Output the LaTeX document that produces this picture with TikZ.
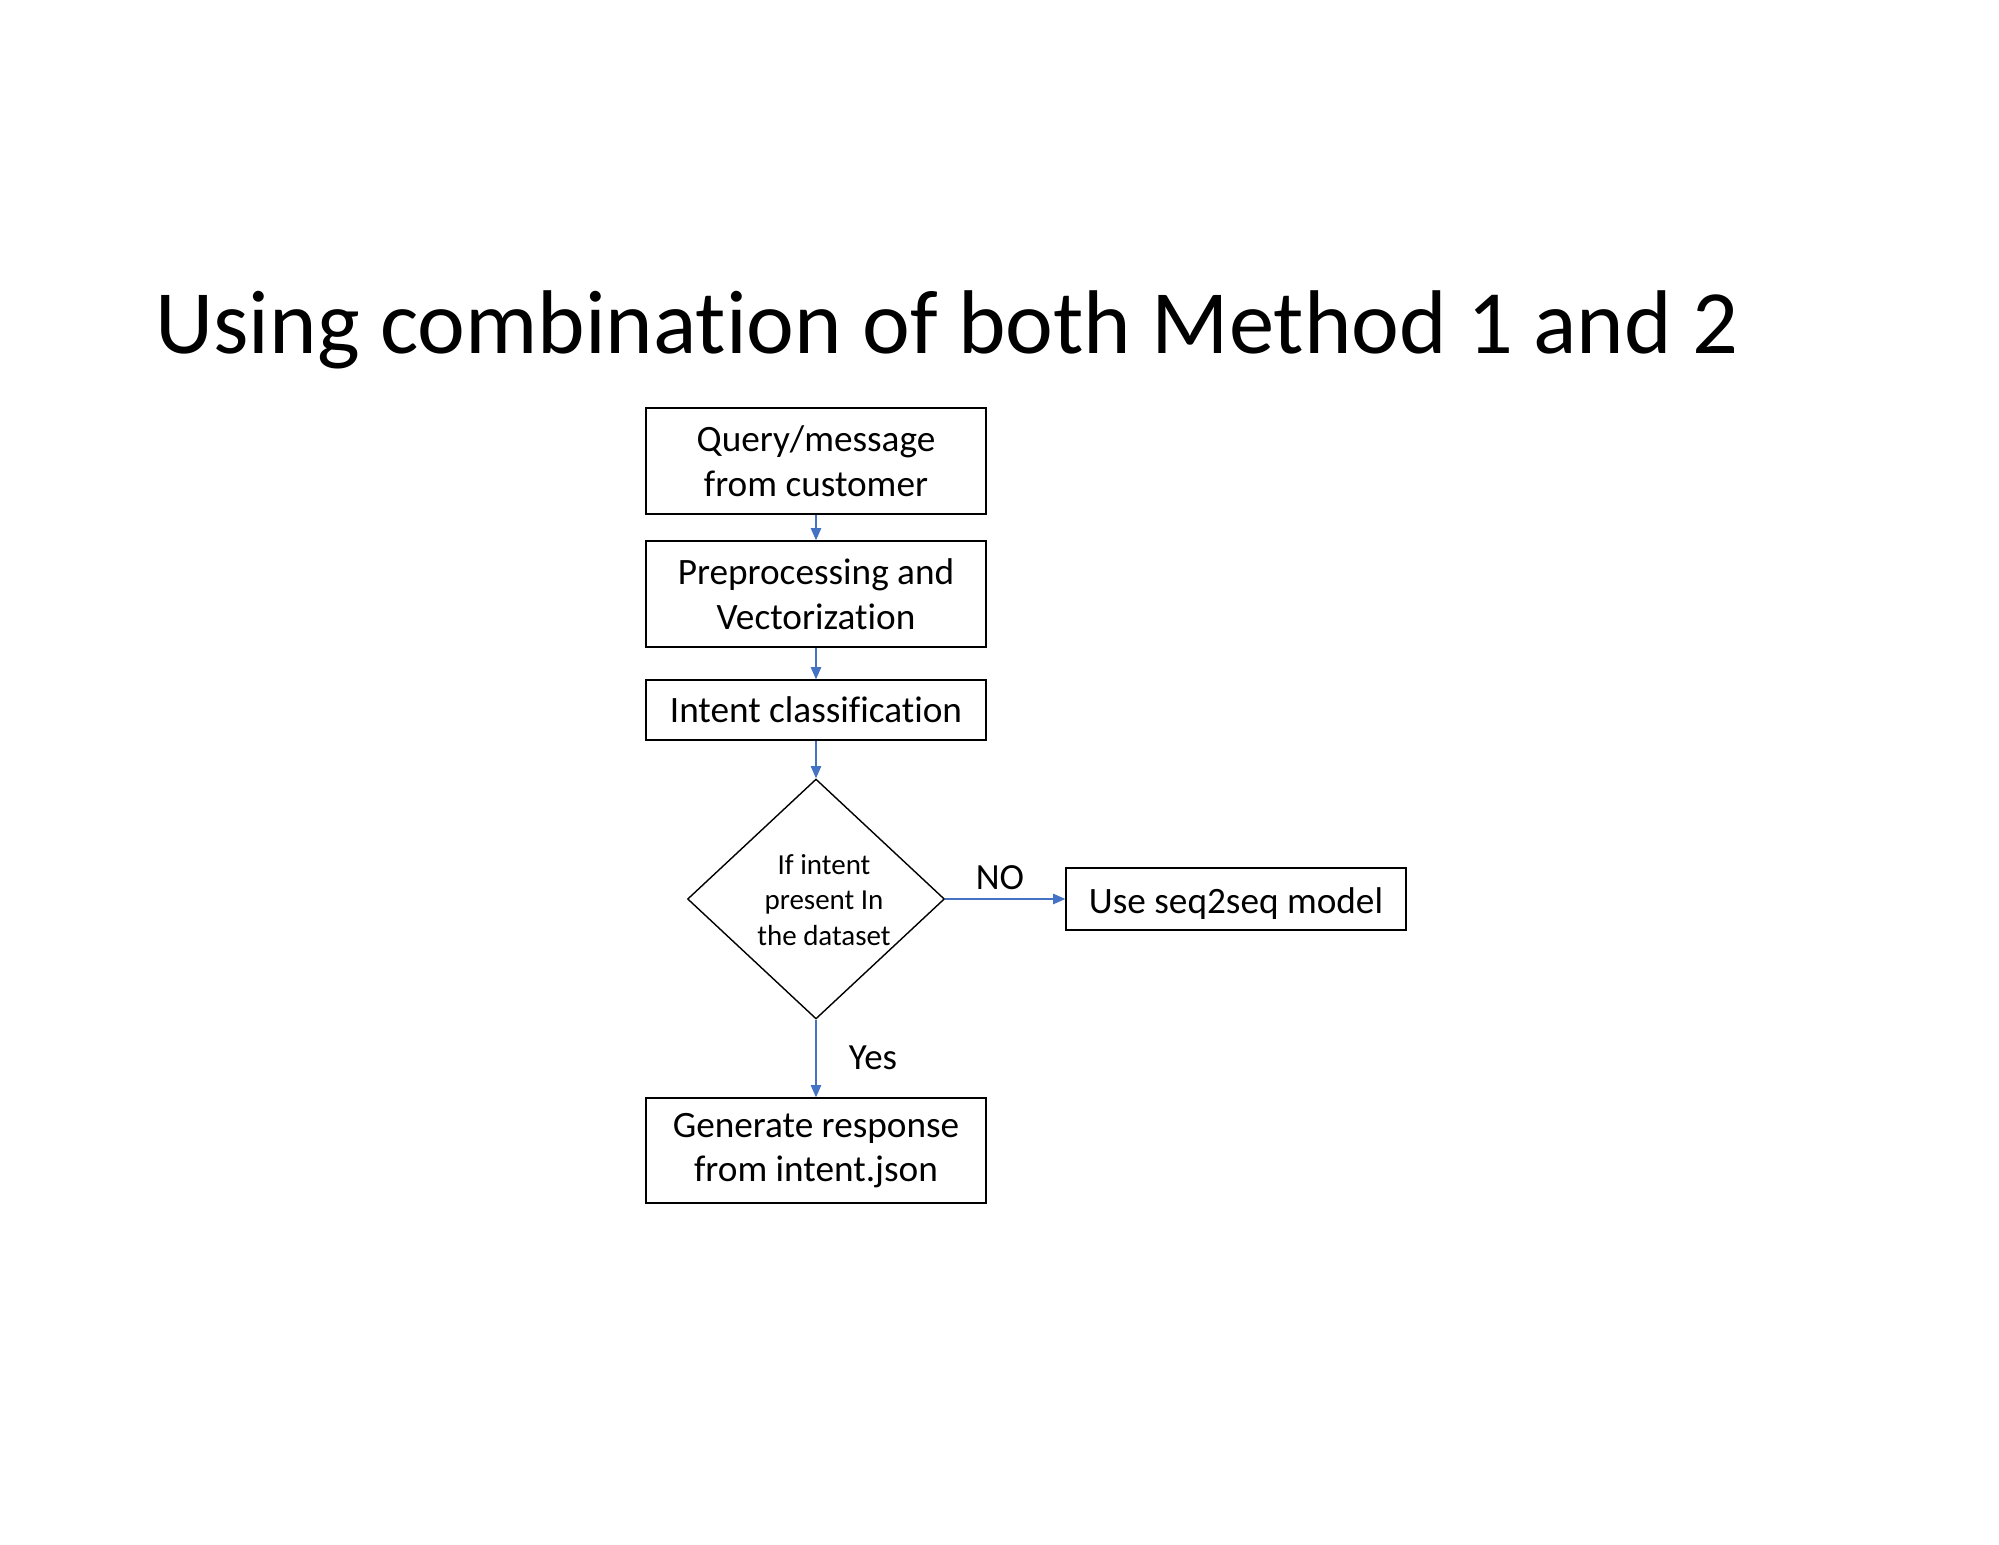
\documentclass[tikz,border=0pt]{standalone}
\usepackage{fontspec}
\setmainfont{Carlito}[Ligatures=NoCommon]
\usetikzlibrary{shapes.geometric,arrows.meta}
\definecolor{arrowblue}{HTML}{4472C4}
\tikzset{
  box/.style={draw=black, line width=0.8pt, rectangle, inner sep=0pt, align=center,
    minimum width=6.8cm, font=\fontsize{21.2}{25.5}\selectfont},
  flow/.style={draw=arrowblue, line width=0.6pt, -{Triangle[length=7pt,width=6pt]}},
  lab/.style={font=\fontsize{21}{24}\selectfont, inner sep=0pt}
}
\begin{document}
\begin{tikzpicture}[x=0.02cm,y=-0.02cm]
\useasboundingbox (0,0) rectangle (1999,1545);
\node[anchor=base west, inner sep=0pt, font=\fontsize{51.5}{60}\selectfont] (title) at (155,353) {Using combination of both Method 1 and 2};
\node[box, minimum height=2.12cm] (q) at (816,461) {Query/message\\from customer};
\node[box, minimum height=2.12cm] (p) at (816,594) {Preprocessing and\\Vectorization};
\node[box, minimum height=1.2cm] (ic) at (816,710) {Intent classification};
\node[draw=black, line width=0.8pt, diamond, minimum width=5.14cm, minimum height=4.8cm, inner sep=0pt] (d) at (816,899) {};
\node[align=center, inner sep=0pt, font=\fontsize{16.5}{20}\selectfont] (dtext) at (824,900) {If intent\\present In\\the dataset};
\node[box, minimum width=6.8cm, minimum height=1.24cm, text height=18pt, text depth=2pt] (s) at (1236,899) {Use seq2seq model};
\node[box, minimum height=2.1cm] (g) at (816,1150.5) {Generate response\\from intent.json};
\node[lab] (no) at (1000,878) {NO};
\node[lab] (yes) at (873,1058) {Yes};
\draw[flow] (q.south) -- (p.north);
\draw[flow] (p.south) -- (ic.north);
\draw[flow] (ic.south) -- (d.north);
\draw[flow] (d.east) -- (s.west);
\draw[flow] (d.south) -- (g.north);
\end{tikzpicture}
\end{document}
